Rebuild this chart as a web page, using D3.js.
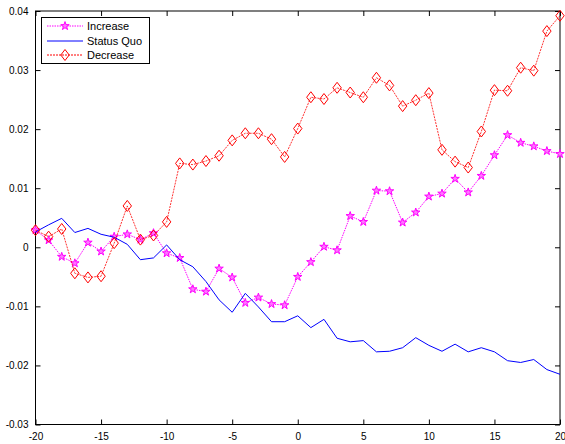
<!DOCTYPE html>
<html><head><meta charset="utf-8">
<script src="https://cdn.jsdelivr.net/npm/d3@7"></script>
<style>body{margin:0;background:#fff}svg{display:block}text{font-family:"Liberation Sans",Arial,sans-serif}</style>
</head><body><svg id="c" width="565" height="444"></svg>
<script>
const xs = d3.range(-20, 21);
const increase = [0.0029,0.0012,-0.0016,-0.0027,0.0008,-0.0007,0.0018,0.0022,0.0013,0.0024,-0.0010,-0.0018,-0.0071,-0.0075,-0.0036,-0.0051,-0.0094,-0.0085,-0.0096,-0.0098,-0.0050,-0.0025,0.0001,-0.0005,0.0053,0.0043,0.0096,0.0095,0.0042,0.0059,0.0086,0.0091,0.0116,0.0093,0.0121,0.0156,0.0190,0.0177,0.0171,0.0163,0.0158];
const statusQuo = [0.0026,0.0038,0.0049,0.0025,0.0032,0.0022,0.0017,0.0005,-0.0021,-0.0018,0.0004,-0.0021,-0.0033,-0.0058,-0.0089,-0.0110,-0.0078,-0.0101,-0.0126,-0.0126,-0.0116,-0.0136,-0.0122,-0.0154,-0.0160,-0.0158,-0.0177,-0.0176,-0.0170,-0.0153,-0.0166,-0.0176,-0.0164,-0.0177,-0.0170,-0.0177,-0.0192,-0.0195,-0.0190,-0.0207,-0.0215];
const decrease = [0.0029,0.0018,0.0031,-0.0044,-0.0051,-0.0049,0.0007,0.0070,0.0013,0.0020,0.0043,0.0142,0.0140,0.0146,0.0155,0.0181,0.0193,0.0193,0.0183,0.0153,0.0201,0.0254,0.0251,0.0270,0.0262,0.0254,0.0287,0.0274,0.0239,0.0249,0.0261,0.0165,0.0145,0.0135,0.0196,0.0266,0.0265,0.0304,0.0299,0.0366,0.0392];
const xTicks = [-20,-15,-10,-5,0,5,10,15,20];
const yTicks = [-0.03,-0.02,-0.01,0,0.01,0.02,0.03,0.04];
const seriesNames = ["Increase","Status Quo","Decrease"];

const svg = d3.select("#c");
const L = 35.5, R = 560, T = 11, B = 424.5;
const x = d3.scaleLinear().domain([-20,20]).range([L,R]);
const y = d3.scaleLinear().domain([-0.03,0.04]).range([B,T]);
const fmtY = d => d===0 ? "0" : d.toFixed(2);
const fmtX = d => String(d);

// axes
const ax = svg.append("g").attr("font-size",11);
ax.append("g").attr("transform",`translate(0,${B})`).call(d3.axisBottom(x).tickValues(xTicks).tickSizeInner(-5).tickSizeOuter(0).tickPadding(8).tickFormat(fmtX))
  .call(g=>{g.select(".domain").remove();});
ax.append("g").attr("transform",`translate(0,${T})`).call(d3.axisTop(x).tickValues(xTicks).tickSizeInner(-5).tickSizeOuter(0).tickFormat(""))
  .call(g=>{g.select(".domain").remove();});
ax.append("g").attr("transform",`translate(${L},0)`).call(d3.axisLeft(y).tickValues(yTicks).tickSizeInner(-5).tickSizeOuter(0).tickPadding(7).tickFormat(fmtY))
  .call(g=>{g.select(".domain").remove();});
ax.append("g").attr("transform",`translate(${R},0)`).call(d3.axisRight(y).tickValues(yTicks).tickSizeInner(-5).tickSizeOuter(0).tickFormat(""))
  .call(g=>{g.select(".domain").remove();});
ax.selectAll("text").attr("fill","#000").attr("font-family",'"Liberation Sans",Arial,sans-serif');
ax.selectAll("line").attr("stroke","#000");
svg.append("rect").attr("x",L).attr("y",T).attr("width",R-L).attr("height",B-T).attr("fill","none").attr("stroke","#000").attr("stroke-width",1);

const line = d3.line().x((d,i)=>x(xs[i])).y(d=>y(d));
const star = d3.symbol().type(d3.symbolStar).size(22);
const diamond = "M0,-5.5L4.2,0L0,5.5L-4.2,0Z";

// Increase
svg.append("path").datum(increase).attr("d",line).attr("fill","none").attr("stroke","#ff00ff").attr("stroke-width",1).attr("stroke-dasharray","1.5,1");
svg.append("g").selectAll("path").data(increase).join("path")
  .attr("transform",(d,i)=>`translate(${x(xs[i])},${y(d)})`).attr("d",star)
  .attr("fill","#ff77ff").attr("stroke","#ff00ff").attr("stroke-width",1);
// Status quo
svg.append("path").datum(statusQuo).attr("d",line).attr("fill","none").attr("stroke","#0000ff").attr("stroke-width",1);
// Decrease
svg.append("path").datum(decrease).attr("d",line).attr("fill","none").attr("stroke","#ff0000").attr("stroke-width",1).attr("stroke-dasharray","2,1").attr("stroke-opacity",0.8);
svg.append("g").selectAll("path").data(decrease).join("path")
  .attr("transform",(d,i)=>`translate(${x(xs[i])},${y(d)})`).attr("d",diamond)
  .attr("fill","none").attr("stroke","#ff0000").attr("stroke-width",1);

// Legend
const lg = svg.append("g");
lg.append("rect").attr("x",41.5).attr("y",17.5).attr("width",108).attr("height",46).attr("fill","#fff").attr("stroke","#000");
const rows = [26,41,55];
seriesNames.forEach((n,i)=>{
  const g = lg.append("g");
  const col = i===0?"#ff00ff":i===1?"#0000ff":"#ff0000";
  const ln = g.append("line").attr("x1",47).attr("x2",83).attr("y1",rows[i]).attr("y2",rows[i]).attr("stroke",col).attr("stroke-width",1);
  if(i===0){ln.attr("stroke-dasharray","1.5,1");
    g.append("path").attr("transform",`translate(65,${rows[i]})`).attr("d",star).attr("fill","#ff77ff").attr("stroke","#ff00ff");}
  if(i===2){ln.attr("stroke-dasharray","2,1");
    g.append("path").attr("transform",`translate(65,${rows[i]})`).attr("d",diamond).attr("fill","none").attr("stroke","#ff0000");}
  g.append("text").attr("x",87).attr("y",rows[i]).attr("dy","0.35em").attr("font-size",11).text(n);
});
</script></body></html>
